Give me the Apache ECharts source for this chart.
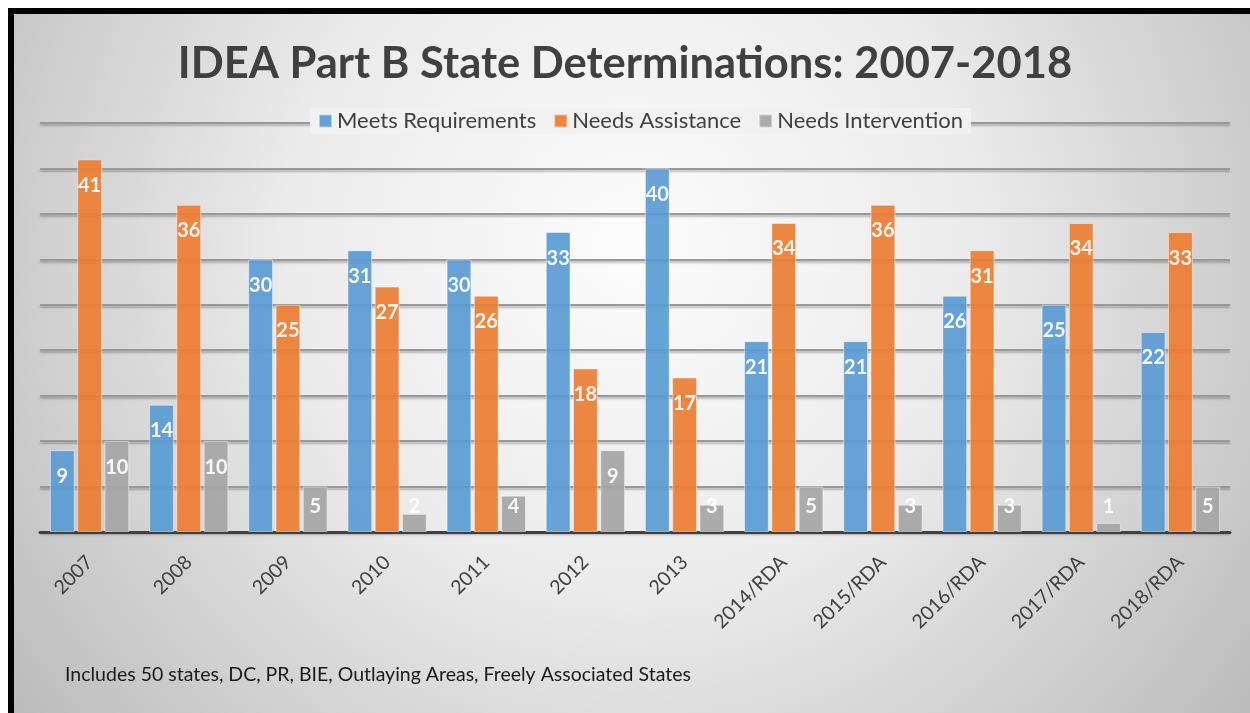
<!DOCTYPE html>
<html>
<head>
<meta charset="utf-8">
<script src="https://cdn.jsdelivr.net/npm/echarts@6/dist/echarts.min.js"></script>
<style>
html,body{margin:0;padding:0;background:#fff;}
#c{width:1250px;height:713px;}
</style>
</head>
<body>
<div id="c"></div>
<script>
var categories = ['2007','2008','2009','2010','2011','2012','2013','2014/RDA','2015/RDA','2016/RDA','2017/RDA','2018/RDA'];
var meetsRequirements = [9,14,30,31,30,33,40,21,21,26,25,22];
var needsAssistance = [41,36,25,27,26,18,17,34,36,31,34,33];
var needsIntervention = [10,10,5,2,4,9,3,5,3,3,1,5];
var seriesNames = ['Meets Requirements','Needs Assistance','Needs Intervention'];
var colors = ['#5B9BD5','#ED7D31','#A5A5A5'];
var titleText = 'IDEA Part B State Determinations: 2007-2018';
var footnote = 'Includes 50 states, DC, PR, BIE, Outlaying Areas, Freely Associated States';

var FONT = 'Lato, "Open Sans", sans-serif';

function toItems(arr){
  return arr.map(function(v){
    if (v <= 5) {
      return {value: v, label: {position: 'insideBottom', distance: 15}};
    }
    return v;
  });
}

function mkSeries(name, data, color){
  return {
    name: name,
    type: 'bar',
    data: toItems(data),
    barGap: '10%',
    barCategoryGap: '20%',
    itemStyle: {color: color, opacity: 0.92, borderColor: 'rgba(255,255,255,0.5)', borderWidth: 1},
    label: {
      show: true,
      position: 'insideTop',
      distance: 16,
      color: '#ffffff',
      fontWeight: 'bold',
      fontSize: 20,
      fontFamily: FONT
    }
  };
}

var chart = echarts.init(document.getElementById('c'));
chart.setOption({
  backgroundColor: '#ffffff',
  animation: false,
  title: {
    text: titleText,
    left: 'center',
    top: 37,
    textStyle: {fontSize: 43.5, fontWeight: 'bold', color: '#404040', fontFamily: FONT}
  },
  legend: {
    data: seriesNames,
    top: 108,
    left: 310,
    itemWidth: 13,
    itemHeight: 13,
    itemGap: 17,
    icon: 'rect',
    backgroundColor: '#f1f1f1',
    padding: [2, 8],
    textStyle: {fontSize: 22, color: '#404040', fontFamily: FONT}
  },
  grid: {left: 40, right: 20, top: 123, bottom: 181, containLabel: false},
  xAxis: {
    type: 'category',
    data: categories,
    axisLine: {lineStyle: {color: '#404040', width: 3}},
    axisTick: {show: false},
    axisLabel: {rotate: 45, fontSize: 19.5, color: '#404040', margin: 27, fontFamily: FONT}
  },
  yAxis: {
    type: 'value',
    min: 0,
    max: 45,
    interval: 5,
    axisLabel: {show: false},
    axisLine: {show: false},
    axisTick: {show: false},
    splitLine: {lineStyle: {color: '#999999', width: 2, shadowColor: 'rgba(0,0,0,0.25)', shadowBlur: 2, shadowOffsetY: 2}}
  },
  graphic: [
    {
      type: 'rect',
      z: -100,
      silent: true,
      shape: {x: 14, y: 14, width: 1236, height: 699},
      style: {
        fill: new echarts.graphic.RadialGradient(0.5, 0.33, 1.1, [
          {offset: 0, color: '#fcfcfc'},
          {offset: 0.45, color: '#ebebeb'},
          {offset: 1, color: '#bcbcbc'}
        ])
      }
    },
    {
      type: 'rect',
      z: 100,
      silent: true,
      shape: {x: 11, y: 11, width: 1300, height: 760},
      style: {fill: 'none', stroke: '#000000', lineWidth: 6}
    },
    {
      type: 'text',
      left: 65,
      top: 665,
      style: {text: footnote, fontSize: 19.5, fill: '#1a1a1a', fontFamily: FONT}
    }
  ],
  series: [
    mkSeries(seriesNames[0], meetsRequirements, colors[0]),
    mkSeries(seriesNames[1], needsAssistance, colors[1]),
    mkSeries(seriesNames[2], needsIntervention, colors[2])
  ]
});
</script>
</body>
</html>
